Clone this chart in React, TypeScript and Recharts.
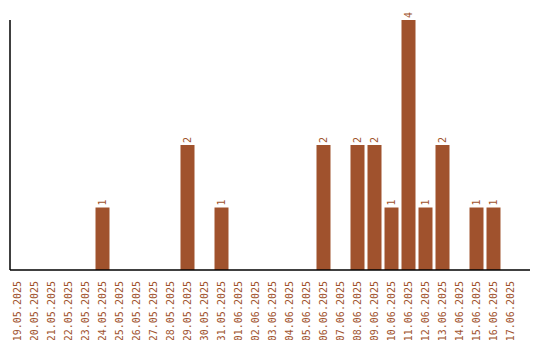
import React from "react";
import { BarChart, Bar, XAxis, YAxis, LabelList } from "recharts";

const dates = [
  "19.05.2025", "20.05.2025", "21.05.2025", "22.05.2025", "23.05.2025",
  "24.05.2025", "25.05.2025", "26.05.2025", "27.05.2025", "28.05.2025",
  "29.05.2025", "30.05.2025", "31.05.2025", "01.06.2025", "02.06.2025",
  "03.06.2025", "04.06.2025", "05.06.2025", "06.06.2025", "07.06.2025",
  "08.06.2025", "09.06.2025", "10.06.2025", "11.06.2025", "12.06.2025",
  "13.06.2025", "14.06.2025", "15.06.2025", "16.06.2025", "17.06.2025",
];
const counts = [
  0, 0, 0, 0, 0, 1, 0, 0, 0, 0, 2, 0, 1, 0, 0,
  0, 0, 0, 2, 0, 2, 2, 1, 4, 1, 2, 0, 1, 1, 0,
];

const data = dates.map((d, i) => ({ date: d, count: counts[i] }));

const COLOR = "#A0522D";
const FONT = "'DejaVu Sans Mono', monospace";

const Tick = (props: any) => {
  const { x, y, payload } = props;
  return (
    <text
      transform={`translate(${x},${y + 3}) rotate(-90)`}
      textAnchor="end"
      dy="0.36em"
      fill={COLOR}
      fontSize={10}
      fontFamily={FONT}
    >
      {payload.value}
    </text>
  );
};

const ValueLabel = (props: any) => {
  const { x, y, width, value } = props;
  if (!value) return null;
  const cx = x + width / 2;
  return (
    <text
      transform={`translate(${cx},${y - 2}) rotate(-90)`}
      textAnchor="start"
      dy="0.36em"
      fill={COLOR}
      fontSize={10}
      fontFamily={FONT}
    >
      {value}
    </text>
  );
};

export default function App() {
  return (
    <div style={{ position: "absolute", left: 0, top: 0, background: "#fff" }}>
      <BarChart
        width={540}
        height={340}
        data={data}
        margin={{ top: 20, right: 10, bottom: 0, left: 0 }}
        barSize={14}
      >
        <XAxis
          dataKey="date"
          interval={0}
          tick={<Tick />}
          tickLine={false}
          axisLine={{ stroke: "#000", strokeWidth: 1.5 }}
          padding={{ left: -1.5, right: 11.5 }}
          height={70}
        />
        <YAxis
          domain={[0, 4]}
          tick={false}
          tickLine={false}
          width={10}
          axisLine={{ stroke: "#000", strokeWidth: 1.5 }}
        />
        <Bar dataKey="count" fill={COLOR} isAnimationActive={false}>
          <LabelList dataKey="count" content={<ValueLabel />} />
        </Bar>
      </BarChart>
    </div>
  );
}
